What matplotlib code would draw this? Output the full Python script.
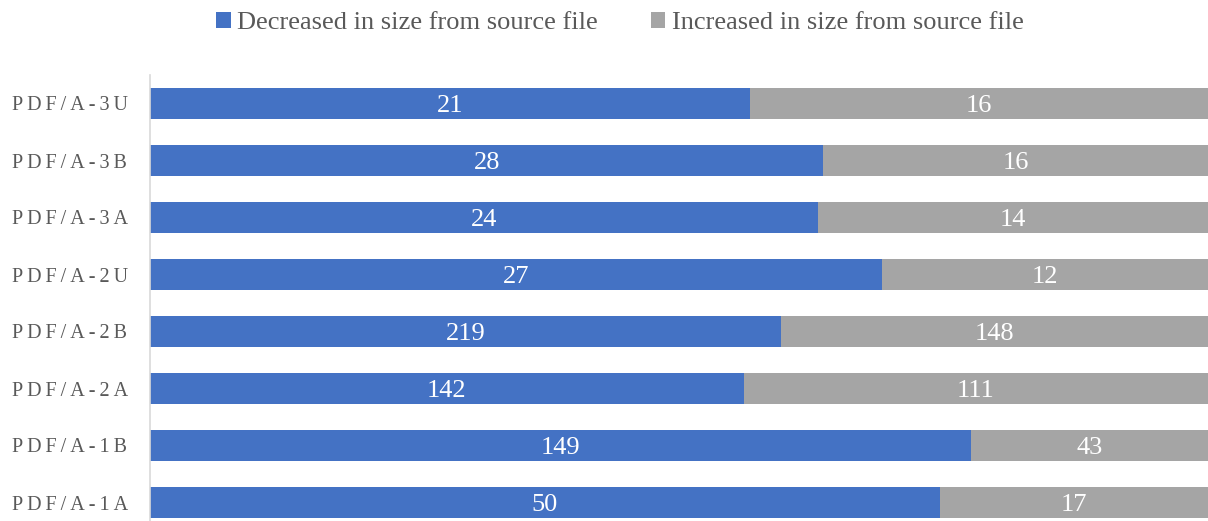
import numpy as np
import matplotlib.pyplot as plt

# Data, bottom to top as drawn
categories = ['PDF/A-1A', 'PDF/A-1B', 'PDF/A-2A', 'PDF/A-2B',
              'PDF/A-2U', 'PDF/A-3A', 'PDF/A-3B', 'PDF/A-3U']
decreased = [50, 149, 142, 219, 27, 24, 28, 21]
increased = [17, 43, 111, 148, 12, 14, 16, 16]

blue = '#4472C4'
gray = '#A5A5A5'
text_gray = '#595959'

plt.rcParams['font.family'] = ['Liberation Serif', 'DejaVu Serif']

dec = np.array(decreased, dtype=float)
inc = np.array(increased, dtype=float)
total = dec + inc
dec_share = dec / total
inc_share = inc / total
y = np.arange(len(categories))

fig = plt.figure(figsize=(12.08, 5.21), dpi=100)
ax = fig.add_axes([150 / 1208, -10 / 521, 1058 / 1208, 456 / 521])

ax.barh(y, dec_share, height=0.56, color=blue,
        label='Decreased in size from source file')
ax.barh(y, inc_share, left=dec_share, height=0.56, color=gray,
        label='Increased in size from source file')

# value labels centred in each segment
for i in range(len(categories)):
    ax.annotate(str(decreased[i]), (dec_share[i] / 2, y[i]), xytext=(0, -1.5),
                textcoords='offset points', ha='center', va='center',
                color='white', fontsize=19)
    ax.annotate(str(increased[i]), (dec_share[i] + inc_share[i] / 2, y[i]),
                xytext=(0, -1.5), textcoords='offset points', ha='center',
                va='center', color='white', fontsize=19)

ax.set_xlim(0, 1)
ax.set_ylim(-0.5, len(categories) - 0.5)
ax.set_xticks([])
ax.set_yticks(y)
# letter-spaced category labels
ax.set_yticklabels(['\u2009'.join(c) for c in categories], color=text_gray,
                   fontsize=14.5)
for t in ax.get_yticklabels():
    t.set_horizontalalignment('left')
ax.tick_params(axis='y', length=0, pad=99)

for side in ['top', 'right', 'bottom']:
    ax.spines[side].set_visible(False)
ax.spines['left'].set_color('#D9D9D9')
ax.spines['left'].set_linewidth(1.2)

leg = fig.legend(loc='center', bbox_to_anchor=(620 / 1208, 1 - 23 / 521), ncol=2,
                 frameon=False, fontsize=19, handlelength=0.55, handleheight=0.55,
                 handletextpad=0.25, columnspacing=2.0)
for t in leg.get_texts():
    t.set_color(text_gray)

fig.savefig('out.png', dpi=100)
